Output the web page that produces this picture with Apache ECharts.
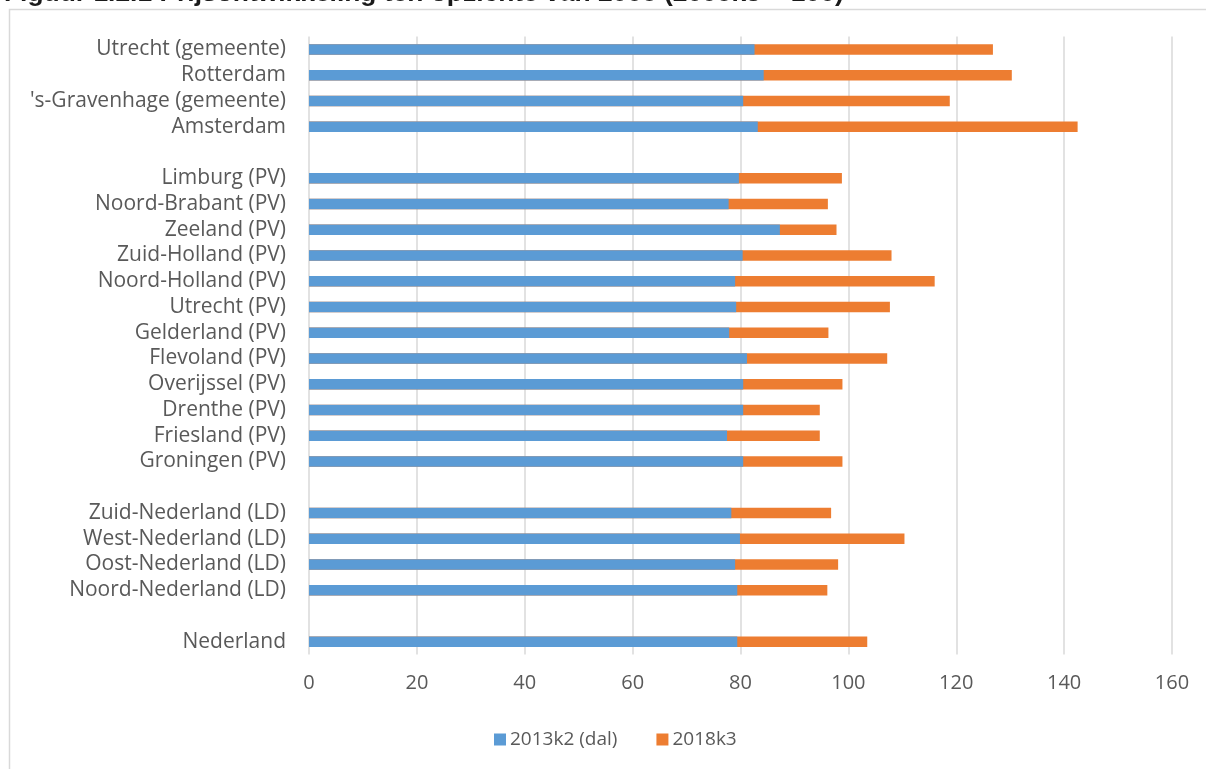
<!DOCTYPE html>
<html>
<head>
<meta charset="utf-8">
<script src="https://cdn.jsdelivr.net/npm/echarts@6/dist/echarts.min.js"></script>
<style>
html,body{margin:0;padding:0;background:#fff;}
#c{width:1206px;height:769px;}
</style>
</head>
<body>
<div id="c"></div>
<script>
const categories = [
  "Utrecht (gemeente)", "Rotterdam", "'s-Gravenhage (gemeente)", "Amsterdam", " ",
  "Limburg (PV)", "Noord-Brabant (PV)", "Zeeland (PV)", "Zuid-Holland (PV)", "Noord-Holland (PV)",
  "Utrecht (PV)", "Gelderland (PV)", "Flevoland (PV)", "Overijssel (PV)", "Drenthe (PV)",
  "Friesland (PV)", "Groningen (PV)", "  ",
  "Zuid-Nederland (LD)", "West-Nederland (LD)", "Oost-Nederland (LD)", "Noord-Nederland (LD)", "   ",
  "Nederland"
];
const dal2013k2 = [
  82.6, 84.3, 80.5, 83.2, null,
  79.7, 77.8, 87.3, 80.4, 79.0,
  79.2, 77.9, 81.2, 80.5, 80.5,
  77.5, 80.5, null,
  78.3, 79.9, 79.0, 79.4, null,
  79.4
];
const q2018k3 = [
  126.8, 130.3, 118.8, 142.5, null,
  98.8, 96.2, 97.8, 108.0, 116.0,
  107.7, 96.3, 107.2, 98.9, 94.7,
  94.7, 98.9, null,
  96.8, 110.4, 98.1, 96.1, null,
  103.5
];
const xTicks = { min: 0, max: 160, interval: 20 };
const seriesNames = ["2013k2 (dal)", "2018k3"];

const chart = echarts.init(document.getElementById('c'));
const font = "'Open Sans', 'Noto Sans', sans-serif";
chart.setOption({
  backgroundColor: '#ffffff',
  animation: false,
  title: {
    text: 'Figuur 1.2.1 Prijsontwikkeling ten opzichte van 2008 (2008k3 = 100)',
    left: -1, top: -24,
    textStyle: { fontFamily: "'Liberation Sans', Arial, sans-serif", fontWeight: 'bold', fontSize: 26.4, color: '#1a1a1a' }
  },
  graphic: [{
    type: 'rect', silent: true, z: -1,
    shape: { x: 9.5, y: 9.5, width: 1300, height: 800 },
    style: { fill: 'none', stroke: '#d9d9d9', lineWidth: 1.5 }
  }],
  legend: {
    data: seriesNames,
    left: 489, top: 725,
    itemWidth: 12, itemHeight: 12, itemGap: 39,
    icon: 'rect',
    textStyle: { fontFamily: font, fontSize: 19, color: '#595959', padding: [0, 0, 0, -1] }
  },
  grid: { left: 309, right: 34, top: 36.6, bottom: 114.5, containLabel: false },
  xAxis: {
    type: 'value', min: xTicks.min, max: xTicks.max, interval: xTicks.interval,
    axisLine: { show: false }, axisTick: { show: false },
    splitLine: { show: true, lineStyle: { color: '#d9d9d9', width: 1.5 } },
    axisLabel: { fontFamily: font, fontSize: 20, color: '#595959', margin: 19 }
  },
  yAxis: {
    type: 'category', data: categories, inverse: true,
    axisLine: { show: false }, axisTick: { show: false },
    axisLabel: { interval: 0, fontFamily: font, fontSize: 21, color: '#595959', margin: 23 }
  },
  series: [
    { name: seriesNames[0], type: 'bar', data: dal2013k2, barWidth: 10.5, barGap: '-100%', z: 3,
      itemStyle: { color: '#5B9BD5' } },
    { name: seriesNames[1], type: 'bar', data: q2018k3, barWidth: 10.5, barGap: '-100%', z: 2,
      itemStyle: { color: '#ED7D31' } }
  ]
});
</script>
</body>
</html>
